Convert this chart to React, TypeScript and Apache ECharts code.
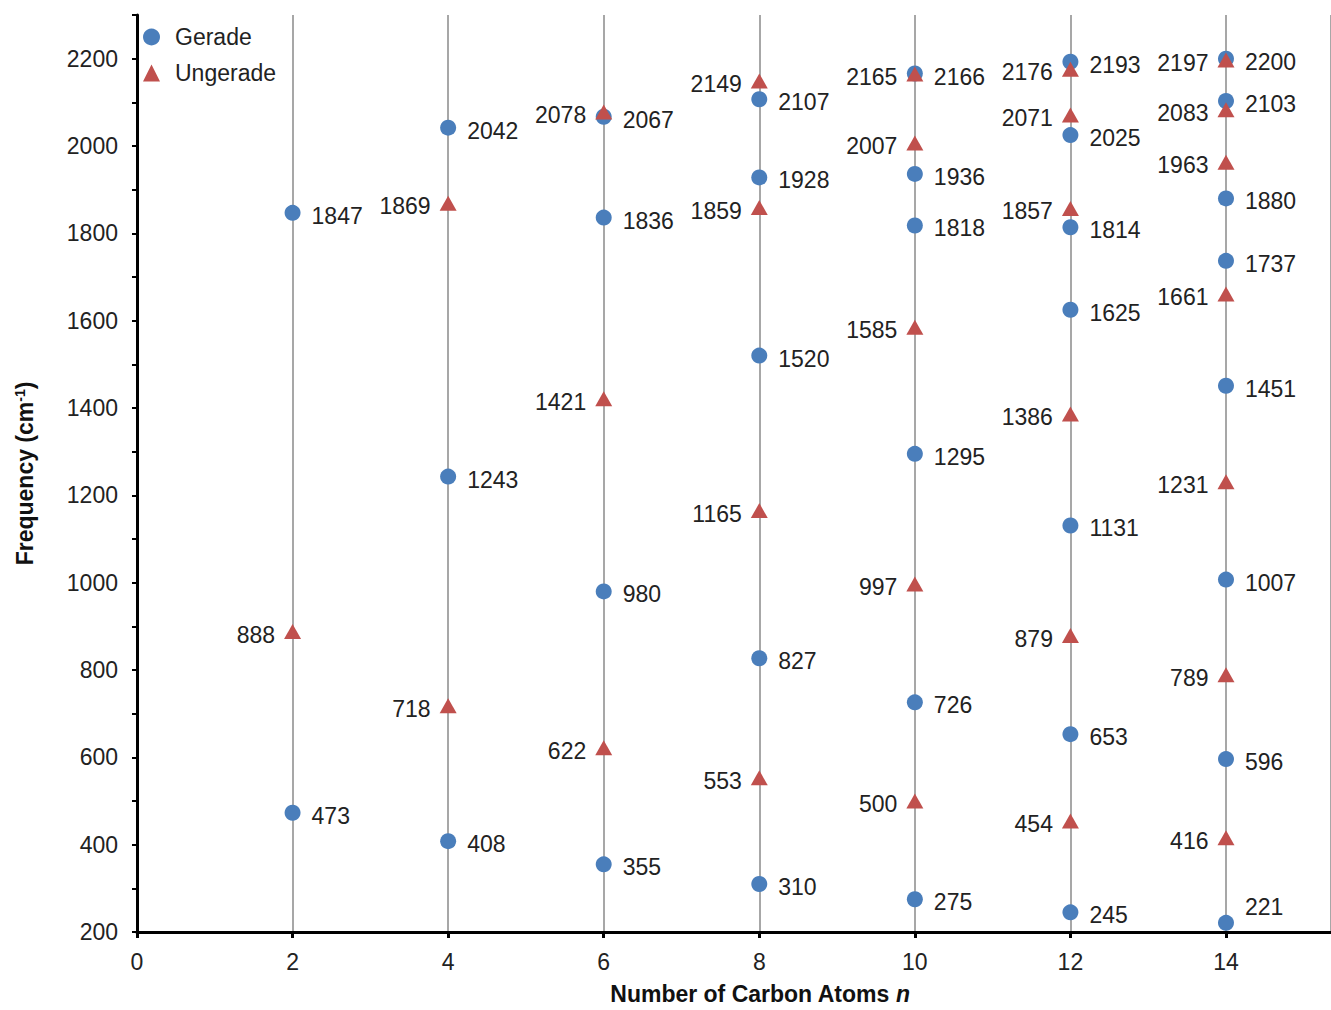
import React, { useEffect, useRef } from "react";
import * as echarts from "echarts";

const carbonCounts = [2, 4, 6, 8, 10, 12, 14];
const geradeFreqs: number[][] = [
  [473, 1847],
  [408, 1243, 2042],
  [355, 980, 1836, 2067],
  [310, 827, 1520, 1928, 2107],
  [275, 726, 1295, 1818, 1936, 2166],
  [245, 653, 1131, 1625, 1814, 2025, 2193],
  [221, 596, 1007, 1451, 1737, 1880, 2103, 2200],
];
const ungeradeFreqs: number[][] = [
  [888],
  [718, 1869],
  [622, 1421, 2078],
  [553, 1165, 1859, 2149],
  [500, 997, 1585, 2007, 2165],
  [454, 879, 1386, 1857, 2071, 2176],
  [416, 789, 1231, 1661, 1963, 2083, 2197],
];
const yTickLabels = [200, 400, 600, 800, 1000, 1200, 1400, 1600, 1800, 2000, 2200];
const xTickLabels = [0, 2, 4, 6, 8, 10, 12, 14];

const FONT = "'Liberation Sans', Arial, sans-serif";
const FS = 23;

export default function App() {
  const ref = useRef<HTMLDivElement>(null);
  useEffect(() => {
    if (!ref.current) return;
    const chart = echarts.init(ref.current, null, { renderer: "svg" });

    const gData: any[] = [];
    carbonCounts.forEach((n, i) =>
      geradeFreqs[i].forEach((v) => {
        const item: any = { value: [n, v] };
        if (n === 14 && v === 221) item.label = { offset: [0, -16] };
        gData.push(item);
      })
    );
    const uData: any[] = [];
    carbonCounts.forEach((n, i) => ungeradeFreqs[i].forEach((v) => uData.push({ value: [n, v] })));

    const labelBase = {
      show: true,
      fontFamily: FONT,
      fontSize: FS,
      color: "#222",
      formatter: (p: any) => String(p.value[1]),
    };

    chart.setOption({
      animation: false,
      textStyle: { fontFamily: FONT },
      grid: { left: 137, top: 15, right: 0, bottom: 69, containLabel: false },
      legend: {
        orient: "vertical",
        left: 138,
        top: 20,
        itemWidth: 17,
        itemHeight: 17,
        itemGap: 12,
        textStyle: { fontFamily: FONT, fontSize: FS, color: "#222", lineHeight: 24, padding: [0, 0, 0, 10] },
        data: [
          { name: "Gerade", icon: "circle", itemStyle: { color: "#4A7EBB", opacity: 1 } },
          { name: "Ungerade", icon: "triangle", itemStyle: { color: "#C0504D", opacity: 1 } },
        ],
      },
      xAxis: {
        type: "value",
        min: 0,
        max: 15.35,
        interval: 2,
        name: "Number of Carbon Atoms {i|n}",
        nameLocation: "middle",
        nameGap: 50,
        nameTextStyle: {
          fontFamily: FONT,
          fontSize: 23,
          fontWeight: "bold",
          color: "#111",
          padding: [0, 0, 0, 52],
          rich: { i: { fontFamily: FONT, fontSize: 23, fontWeight: "bold", fontStyle: "italic", color: "#111" } },
        },
        axisLine: { show: true, onZero: false, lineStyle: { color: "#000", width: 3 } },
        axisTick: { show: true, length: 6, lineStyle: { color: "#000", width: 3 } },
        axisLabel: {
          fontFamily: FONT,
          fontSize: FS,
          color: "#222",
          margin: 18,
          showMaxLabel: false,
          formatter: (v: number) => (xTickLabels.includes(v) ? String(v) : ""),
        },
        splitLine: { show: true, lineStyle: { color: "#8a8a8a", width: 1.5 } },
      },
      yAxis: {
        type: "value",
        min: 200,
        max: 2300,
        interval: 100,
        name: "Frequency (cm{s|-1})",
        nameLocation: "middle",
        nameGap: 100,
        nameTextStyle: {
          fontFamily: FONT,
          fontSize: 23,
          fontWeight: "bold",
          color: "#111",
          rich: { s: { fontFamily: FONT, fontSize: 14, fontWeight: "bold", color: "#111", verticalAlign: "top", padding: [0, 0, 10, 0] } },
        },
        axisLine: { show: true, lineStyle: { color: "#000", width: 3 } },
        axisTick: { show: true, length: 5, lineStyle: { color: "#000", width: 2 } },
        axisLabel: {
          fontFamily: FONT,
          fontSize: FS,
          color: "#222",
          margin: 19,
          formatter: (v: number) => (yTickLabels.includes(v) ? String(v) : ""),
        },
        splitLine: { show: false },
      },
      series: [
        {
          name: "Gerade",
          type: "scatter",
          symbol: "circle",
          symbolSize: 16,
          itemStyle: { color: "#4A7EBB", opacity: 1 },
          label: { ...labelBase, position: "right", distance: 11, offset: [0, 3] },
          data: gData,
          z: 2,
        },
        {
          name: "Ungerade",
          type: "scatter",
          symbol: "triangle",
          symbolSize: [17, 15],
          itemStyle: { color: "#C0504D", opacity: 1 },
          label: { ...labelBase, position: "left", distance: 9, offset: [0, 3] },
          data: uData,
          z: 3,
        },
      ],
    });
    return () => chart.dispose();
  }, []);
  return (
    <div
      ref={ref}
      style={{ position: "absolute", left: 0, top: 0, width: 1331, height: 1010, background: "#fff" }}
    />
  );
}
